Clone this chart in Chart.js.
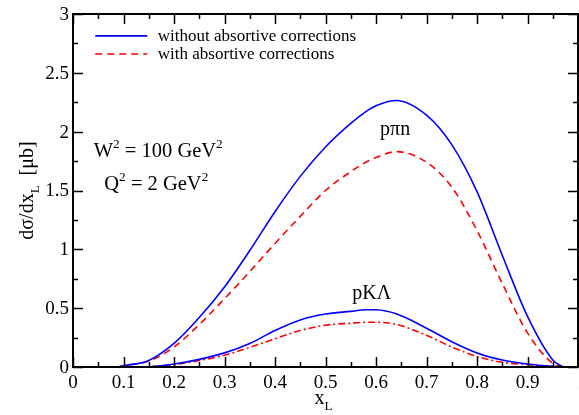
<!DOCTYPE html>
<html lang="en">
<head>
<meta charset="UTF-8">
<title>xL distribution</title>
<script src="https://cdn.jsdelivr.net/npm/chart.js"></script>
<style>
  html, body { margin: 0; padding: 0; background: #fff; }
  #wrap { width: 579px; height: 415px; }
</style>
</head>
<body>
<div id="wrap"><canvas id="chart"></canvas></div>
<script>
// values
const xL = [0.09, 0.1, 0.15, 0.2, 0.25, 0.3, 0.35, 0.4, 0.45, 0.5, 0.55, 0.58, 0.6, 0.64, 0.7, 0.75, 0.8, 0.85, 0.9, 0.95, 0.97];
const pPiNNoAbs = [0, 0.01, 0.055, 0.2, 0.42, 0.68, 0.99, 1.32, 1.62, 1.87, 2.07, 2.17, 2.22, 2.265, 2.14, 1.89, 1.49, 0.95, 0.43, 0.06, 0];
const pPiNAbs = [0, 0.01, 0.05, 0.17, 0.36, 0.58, 0.81, 1.05, 1.28, 1.5, 1.66, 1.74, 1.78, 1.83, 1.74, 1.53, 1.16, 0.71, 0.29, 0.03, 0];
const pKLNoAbs = [null, null, 0, 0.025, 0.065, 0.12, 0.2, 0.31, 0.40, 0.45, 0.473, 0.487, 0.486, 0.452, 0.33, 0.215, 0.12, 0.06, 0.025, 0.005, 0];
const pKLAbs = [null, null, 0, 0.02, 0.055, 0.10, 0.167, 0.24, 0.31, 0.355, 0.372, 0.38, 0.38, 0.362, 0.27, 0.17, 0.09, 0.04, 0.02, 0.005, 0];

const xTicks = [0, 0.1, 0.2, 0.3, 0.4, 0.5, 0.6, 0.7, 0.8, 0.9, 1];
const xTickLabels = ['0', '0.1', '0.2', '0.3', '0.4', '0.5', '0.6', '0.7', '0.8', '0.9', '1'];
const yTicks = [0, 0.5, 1, 1.5, 2, 2.5, 3];
const yTickLabels = ['0', '0.5', '1', '1.5', '2', '2.5', '3'];
const legendLabels = ['without absortive corrections', 'with absortive corrections'];

const SERIF = '"Liberation Serif", "Times New Roman", serif';
const BLUE = '#0000ff';
const RED = '#ff0000';

function pts(ys) {
    return xL.map((x, i) => ({ x: x, y: ys[i] }));
}

// text with superscripts / subscripts: parts = [[text, 'n'|'sup'|'sub'], ...]
function drawRich(ctx, parts, x, y, size) {
    let cx = x;
    ctx.textBaseline = 'alphabetic';
    ctx.textAlign = 'left';
    parts.forEach(([t, mode]) => {
        let s = size, dy = 0;
        if (mode === 'sup') { s = size * 0.65; dy = -size * 0.45; }
        if (mode === 'sub') { s = size * 0.65; dy = size * 0.28; }
        ctx.font = s + 'px ' + SERIF;
        ctx.fillText(t, cx, y + dy);
        cx += ctx.measureText(t).width;
    });
    return cx - x;
}

function richWidth(ctx, parts, size) {
    let w = 0;
    parts.forEach(([t, mode]) => {
        const s = mode === 'n' ? size : size * 0.65;
        ctx.font = s + 'px ' + SERIF;
        w += ctx.measureText(t).width;
    });
    return w;
}

const framePlugin = {
    id: 'frame',
    afterDraw(chart) {
        const ctx = chart.ctx;
        const a = chart.chartArea;
        const xs = chart.scales.x, ys = chart.scales.y;
        ctx.save();
        ctx.fillStyle = '#000';
        ctx.strokeStyle = '#000';

        // ticks, inward on all four sides
        ctx.lineWidth = 1.5;
        ctx.beginPath();
        for (let v = 0; v <= 1.0001; v += 0.05) {
            const px = Math.round(xs.getPixelForValue(v)) + 0.5;
            const len = Math.abs(v * 10 - Math.round(v * 10)) < 1e-6 ? 10 : 5;
            ctx.moveTo(px, a.bottom); ctx.lineTo(px, a.bottom - len);
            ctx.moveTo(px, a.top); ctx.lineTo(px, a.top + len);
        }
        for (let v = 0; v <= 3.0001; v += 0.25) {
            const py = Math.round(ys.getPixelForValue(v)) + 0.5;
            const len = Math.abs(v * 2 - Math.round(v * 2)) < 1e-6 ? 10 : 5;
            ctx.moveTo(a.left, py); ctx.lineTo(a.left + len, py);
            ctx.moveTo(a.right, py); ctx.lineTo(a.right - len, py);
        }
        ctx.stroke();

        // frame
        ctx.lineWidth = 2;
        ctx.strokeRect(a.left, a.top, a.right - a.left, a.bottom - a.top);

        // tick labels
        ctx.font = '19px ' + SERIF;
        ctx.textAlign = 'center';
        ctx.textBaseline = 'alphabetic';
        xTicks.forEach((v, i) => {
            ctx.fillText(xTickLabels[i], xs.getPixelForValue(v) + (v === 1 ? 4 : 0), a.bottom + 21);
        });
        ctx.textAlign = 'right';
        ctx.textBaseline = 'middle';
        yTicks.forEach((v, i) => {
            ctx.fillText(yTickLabels[i], a.left - 4, ys.getPixelForValue(v) + 1);
        });

        // axis titles
        const xt = [['x', 'n'], ['L', 'sub']];
        const xw = richWidth(ctx, xt, 20);
        drawRich(ctx, xt, (a.left + a.right) / 2 - xw / 2 - 2, a.bottom + 37, 20);

        const yt = [['d\u03c3/dx', 'n'], ['L', 'sub'], ['  [\u03bcb]', 'n']];
        const yw = richWidth(ctx, yt, 20);
        ctx.save();
        ctx.translate(33, (a.top + a.bottom) / 2);
        ctx.rotate(-Math.PI / 2);
        drawRich(ctx, yt, -yw / 2, 0, 20);
        ctx.restore();

        // legend
        const lx0 = xs.getPixelForValue(0.044), lx1 = xs.getPixelForValue(0.147);
        const tx = xs.getPixelForValue(0.168);
        const ly = [ys.getPixelForValue(2.814), ys.getPixelForValue(2.66)];
        ctx.lineWidth = 1.6;
        ctx.strokeStyle = BLUE;
        ctx.setLineDash([]);
        ctx.beginPath(); ctx.moveTo(lx0, ly[0]); ctx.lineTo(lx1, ly[0]); ctx.stroke();
        ctx.strokeStyle = RED;
        ctx.setLineDash([7, 5]);
        ctx.beginPath(); ctx.moveTo(lx0, ly[1]); ctx.lineTo(lx1, ly[1]); ctx.stroke();
        ctx.setLineDash([]);
        ctx.font = '17px ' + SERIF;
        ctx.textAlign = 'left';
        ctx.textBaseline = 'middle';
        ctx.fillText(legendLabels[0], tx, ly[0] + 1);
        ctx.fillText(legendLabels[1], tx, ly[1] + 1);

        // annotations
        drawRich(ctx, [['W', 'n'], ['2', 'sup'], [' = 100 GeV', 'n'], ['2', 'sup']],
            xs.getPixelForValue(0.041), ys.getPixelForValue(1.784), 20.5);
        drawRich(ctx, [['Q', 'n'], ['2', 'sup'], [' = 2 GeV', 'n'], ['2', 'sup']],
            xs.getPixelForValue(0.062), ys.getPixelForValue(1.504), 20.5);
        drawRich(ctx, [['p\u03c0n', 'n']], xs.getPixelForValue(0.608), ys.getPixelForValue(1.97), 20);
        drawRich(ctx, [['pK\u039b', 'n']], xs.getPixelForValue(0.553), ys.getPixelForValue(0.578), 20);

        ctx.restore();
    }
};

const ctx = document.getElementById('chart').getContext('2d');
new Chart(ctx, {
    type: 'line',
    data: {
        datasets: [
            { label: 'p\u03c0n without', data: pts(pPiNNoAbs), borderColor: BLUE, borderWidth: 1.6 },
            { label: 'p\u03c0n with', data: pts(pPiNAbs), borderColor: RED, borderWidth: 1.6, borderDash: [7, 5] },
            { label: 'pK\u039b without', data: pts(pKLNoAbs), borderColor: BLUE, borderWidth: 1.6 },
            { label: 'pK\u039b with', data: pts(pKLAbs), borderColor: RED, borderWidth: 1.6, borderDash: [7, 3, 2, 3] }
        ]
    },
    options: {
        responsive: true,
        maintainAspectRatio: false,
        animation: false,
        layout: { padding: { left: 73, top: 14, right: 1, bottom: 48 } },
        elements: {
            point: { radius: 0 },
            line: { cubicInterpolationMode: 'monotone', fill: false }
        },
        plugins: { legend: { display: false }, tooltip: { enabled: false } },
        scales: {
            x: { type: 'linear', min: 0, max: 1, display: false },
            y: { type: 'linear', min: 0, max: 3, display: false }
        }
    },
    plugins: [framePlugin]
});
</script>
</body>
</html>
